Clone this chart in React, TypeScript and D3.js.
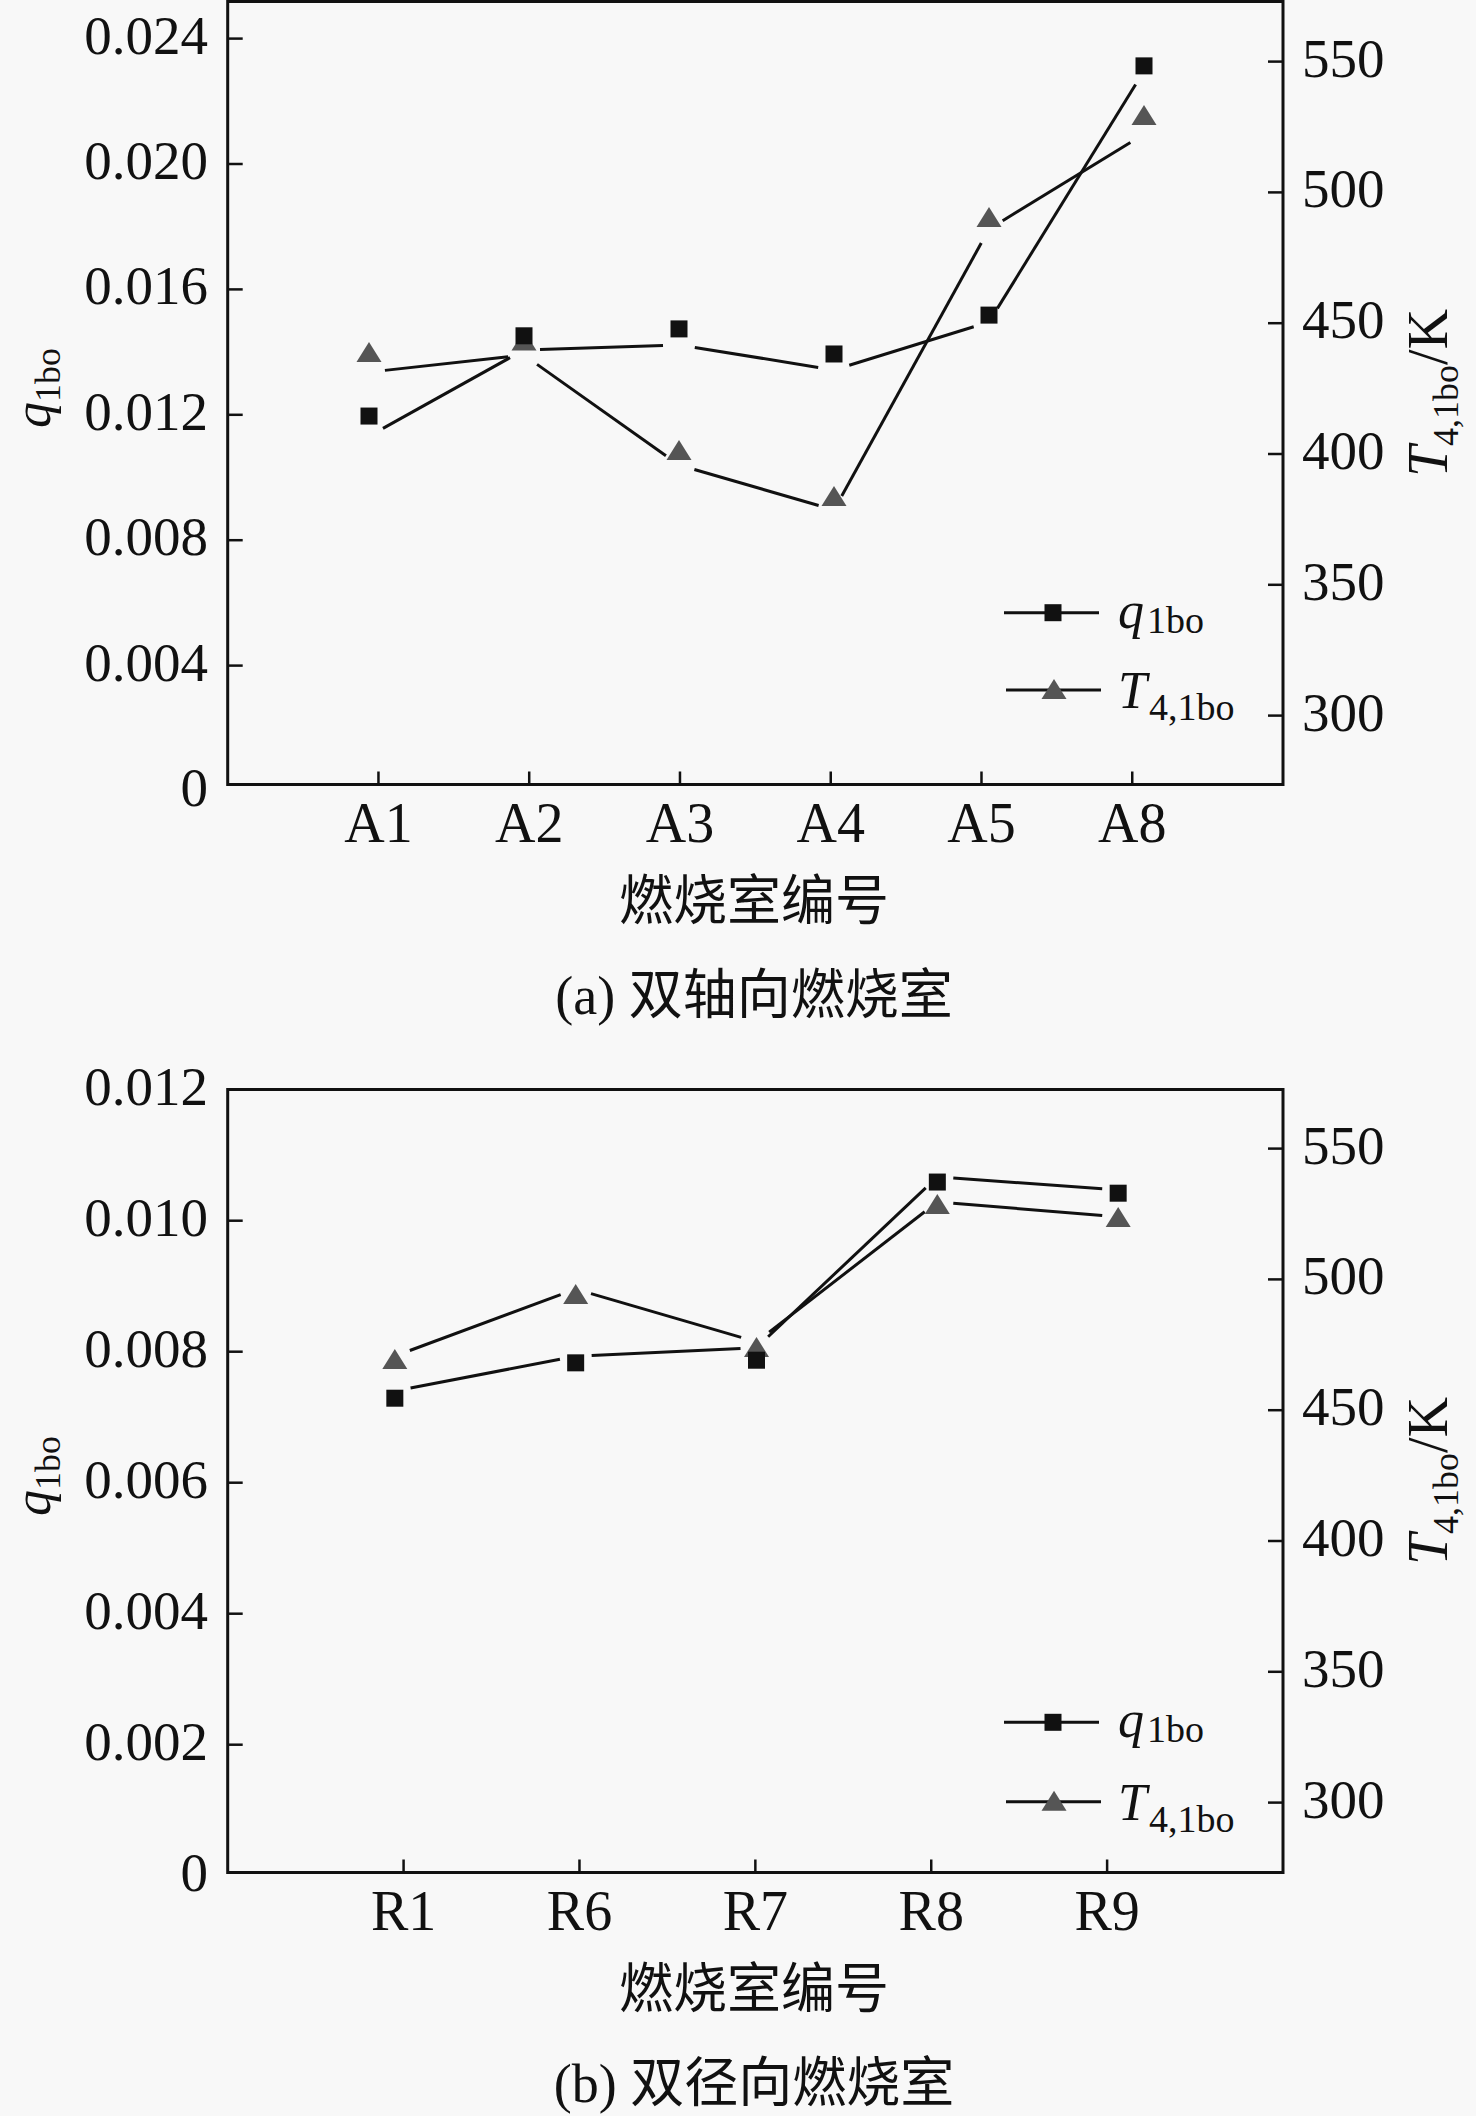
import React from "react";
import * as d3 from "d3";

// ---------- data ----------
const AXIAL_CHAMBERS = ["A1", "A2", "A3", "A4", "A5", "A8"];
const AXIAL_Q = [0.01196, 0.01452, 0.01474, 0.01394, 0.01518, 0.02313];
const AXIAL_Q_LINE = [0.01132, 0.01407, 0.01423, 0.01343, 0.01496, 0.02297];
const AXIAL_T = [438.6, 443.0, 401.1, 383.6, 490.2, 529.2];
const AXIAL_T_LINE = [431.3, 437.8, 395.8, 378.6, 486.0, 522.3];

const RADIAL_CHAMBERS = ["R1", "R6", "R7", "R8", "R9"];
const RADIAL_Q = [0.00729, 0.00783, 0.00787, 0.01059, 0.01042];
const RADIAL_Q_LINE = [0.0074, 0.00793, 0.00806, 0.01067, 0.01047];
const RADIAL_T = [469.2, 494.0, 473.8, 528.4, 523.5];
const RADIAL_T_LINE = [470.7, 496.3, 476.1, 529.6, 523.9];

const AXIAL_Q_TICKS = [0, 0.004, 0.008, 0.012, 0.016, 0.02, 0.024];
const AXIAL_Q_LABELS = ["0", "0.004", "0.008", "0.012", "0.016", "0.020", "0.024"];
const RADIAL_Q_TICKS = [0, 0.002, 0.004, 0.006, 0.008, 0.01, 0.012];
const RADIAL_Q_LABELS = ["0", "0.002", "0.004", "0.006", "0.008", "0.010", "0.012"];
const T_TICKS = [300, 350, 400, 450, 500, 550];
const T_LABELS = ["300", "350", "400", "450", "500", "550"];

const X_TITLE = "燃烧室编号";
const CAPTION_A = "(a) 双轴向燃烧室";
const CAPTION_B = "(b) 双径向燃烧室";

// ---------- style ----------
const SERIF = "'Liberation Serif', 'Times New Roman', 'Noto Sans CJK SC', serif";
const BG = "#f8f8f8";
const INK = "#111";
const TRI = "#555";

type PanelProps = {
  top: number;
  cats: string[];
  q: number[];
  qLine: number[];
  t: number[];
  tLine: number[];
  qTicks: number[];
  qLabels: string[];
  qDomainMax: number;
  qRange: [number, number];
  tRange: [number, number];
  legendY: number;
  legendGap: number;
  caption: string;
};

const L = 227.7;
const R = 1283;
const FT = 1.5;
const FB = 784.5;

function shorten(x1: number, y1: number, x2: number, y2: number, g: number) {
  const dx = x2 - x1;
  const dy = y2 - y1;
  const len = Math.hypot(dx, dy);
  const t = g / len;
  return [x1 + dx * t, y1 + dy * t, x2 - dx * t, y2 - dy * t];
}

function Square({ x, y }: { x: number; y: number }) {
  const s = 17;
  return <rect x={x - s / 2} y={y - s / 2} width={s} height={s} fill={INK} />;
}

function Triangle({ x, y }: { x: number; y: number }) {
  const p = d3.path();
  p.moveTo(x, y - 11);
  p.lineTo(x + 12.5, y + 9);
  p.lineTo(x - 12.5, y + 9);
  p.closePath();
  return <path d={p.toString()} fill={TRI} />;
}

function Panel(props: PanelProps) {
  const { top, cats, q, qLine, t, tLine, qTicks, qLabels, qDomainMax, qRange, tRange, legendY, legendGap, caption } = props;
  const n = cats.length;
  const x = d3.scaleLinear().domain([0, n + 1]).range([L, R]);
  const xm = d3.scaleLinear().domain([0, n + 1]).range([214, 1299]);
  const yL = d3.scaleLinear().domain([0, qDomainMax]).range(qRange);
  const yR = d3.scaleLinear().domain([300, 550]).range(tRange);
  const gap = 16;

  const segs = (vals: number[], sc: d3.ScaleLinear<number, number>) =>
    d3.range(vals.length - 1).map((i) =>
      shorten(xm(i + 1), sc(vals[i]), xm(i + 2), sc(vals[i + 1]), gap)
    );

  const qSegs = segs(qLine, yL);
  const tSegs = segs(tLine, yR);

  return (
    <g transform={`translate(0,${top})`}>
      {/* frame */}
      <rect x={L} y={FT} width={R - L} height={FB - FT} fill="none" stroke={INK} strokeWidth={3} />
      {/* left ticks */}
      {qTicks.map((v, i) => (
        <g key={"lq" + i}>
          {v > 0 && yL(v) > FT + 8 && (
            <line x1={L} x2={L + 15} y1={yL(v)} y2={yL(v)} stroke={INK} strokeWidth={2.5} />
          )}
          <text x={208} y={yL(v) + 15} textAnchor="end" fontSize={55} fontFamily={SERIF} fill={INK}>
            {qLabels[i]}
          </text>
        </g>
      ))}
      {/* right ticks */}
      {T_TICKS.map((v, i) => (
        <g key={"rt" + i}>
          <line x1={R - 15} x2={R} y1={yR(v)} y2={yR(v)} stroke={INK} strokeWidth={2.5} />
          <text x={1302} y={yR(v) + 15} textAnchor="start" fontSize={55} fontFamily={SERIF} fill={INK}>
            {T_LABELS[i]}
          </text>
        </g>
      ))}
      {/* x ticks */}
      {cats.map((c, i) => (
        <g key={"xc" + i}>
          <line x1={x(i + 1)} x2={x(i + 1)} y1={FB} y2={FB - 13} stroke={INK} strokeWidth={2.5} />
          <text x={x(i + 1)} y={FB + 57} textAnchor="middle" fontSize={56} fontFamily={SERIF} fill={INK}>
            {c}
          </text>
        </g>
      ))}
      {/* lines */}
      {qSegs.map((s, i) => (
        <line key={"qs" + i} x1={s[0]} y1={s[1]} x2={s[2]} y2={s[3]} stroke={INK} strokeWidth={3} />
      ))}
      {tSegs.map((s, i) => (
        <line key={"ts" + i} x1={s[0]} y1={s[1]} x2={s[2]} y2={s[3]} stroke={INK} strokeWidth={3} />
      ))}
      {/* markers */}
      {t.map((v, i) => (
        <Triangle key={"tm" + i} x={xm(i + 1)} y={yR(v)} />
      ))}
      {q.map((v, i) => (
        <Square key={"qm" + i} x={xm(i + 1)} y={yL(v)} />
      ))}
      {/* legend */}
      <line x1={1004} x2={1099} y1={legendY} y2={legendY} stroke={INK} strokeWidth={3} />
      <Square x={1053} y={legendY} />
      <text x={1118} y={legendY + 15} fontSize={52} fontFamily={SERIF} fill={INK}>
        <tspan fontStyle="italic">q</tspan>
        <tspan fontSize={38} dx={3} dy={5}>1bo</tspan>
      </text>
      <line x1={1006} x2={1101} y1={legendY + legendGap} y2={legendY + legendGap} stroke={INK} strokeWidth={3} />
      <Triangle x={1054} y={legendY + legendGap} />
      <text x={1118} y={legendY + legendGap + 18} fontSize={52} fontFamily={SERIF} fill={INK}>
        <tspan fontStyle="italic">T</tspan>
        <tspan fontSize={38} dx={2} dy={12}>4,1bo</tspan>
      </text>
      {/* axis titles */}
      <text transform={`translate(50,388) rotate(-90)`} textAnchor="middle" fontSize={52} fontFamily={SERIF} fill={INK}>
        <tspan fontStyle="italic">q</tspan>
        <tspan fontSize={36} dy={10}>1bo</tspan>
      </text>
      <text transform={`translate(1447,393) rotate(-90)`} textAnchor="middle" fontSize={56} fontFamily={SERIF} fill={INK}>
        <tspan fontStyle="italic">T</tspan>
        <tspan fontSize={36} dy={11}>4,1bo</tspan>
        <tspan dy={-11}>/K</tspan>
      </text>
      <text x={754} y={902} textAnchor="middle" dominantBaseline="central" fontSize={54} fontFamily={SERIF} fill={INK}>
        {X_TITLE}
      </text>
      <text x={754} y={996} textAnchor="middle" dominantBaseline="central" fontSize={54} fontFamily={SERIF} fill={INK}>
        {caption}
      </text>
    </g>
  );
}

export default function App() {
  return (
    <div style={{ position: "absolute", left: 0, top: 0 }}>
      <svg width={1476} height={2116} viewBox="0 0 1476 2116" style={{ display: "block" }}>
        <rect x={0} y={0} width={1476} height={2116} fill={BG} />
        <Panel
          top={0}
          cats={AXIAL_CHAMBERS}
          q={AXIAL_Q}
          qLine={AXIAL_Q_LINE}
          t={AXIAL_T}
          tLine={AXIAL_T_LINE}
          qTicks={AXIAL_Q_TICKS}
          qLabels={AXIAL_Q_LABELS}
          qDomainMax={0.024}
          qRange={[791, 38.6]}
          tRange={[715.6, 61.6]}
          legendY={612.7}
          legendGap={77.3}
          caption={CAPTION_A}
        />
        <Panel
          top={1088}
          cats={RADIAL_CHAMBERS}
          q={RADIAL_Q}
          qLine={RADIAL_Q_LINE}
          t={RADIAL_T}
          tLine={RADIAL_T_LINE}
          qTicks={RADIAL_Q_TICKS}
          qLabels={RADIAL_Q_LABELS}
          qDomainMax={0.012}
          qRange={[787.7, 1.7]}
          tRange={[714.6, 60.6]}
          legendY={634.3}
          legendGap={79.4}
          caption={CAPTION_B}
        />
      </svg>
    </div>
  );
}
